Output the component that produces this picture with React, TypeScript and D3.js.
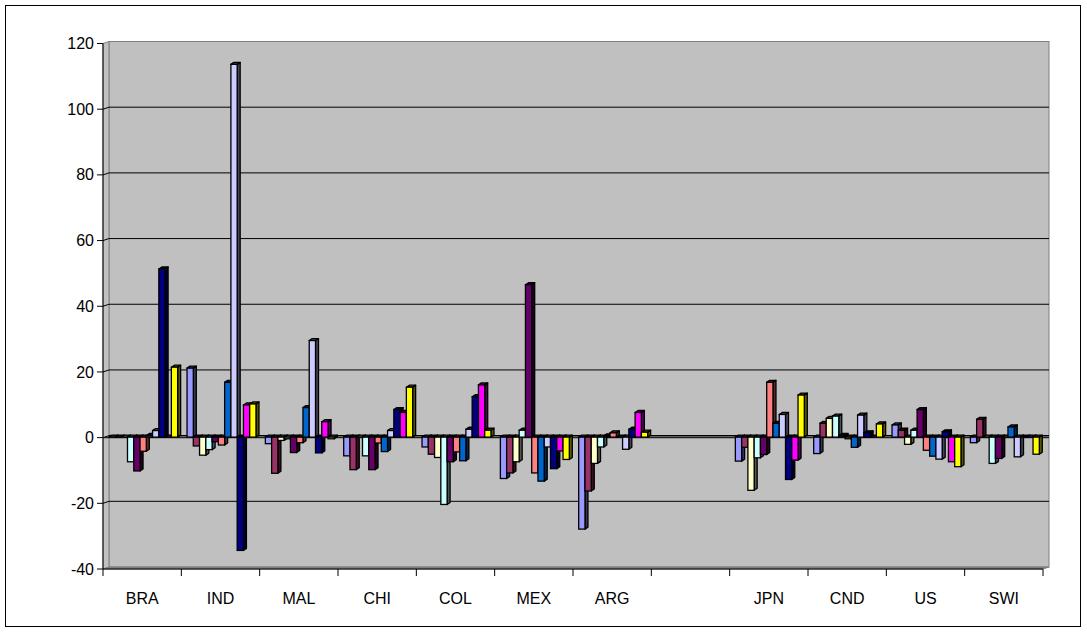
import React from "react";
import * as d3 from "d3";

const categories = ["BRA", "IND", "MAL", "CHI", "COL", "MEX", "ARG", " ", "JPN", "CND", "US", "SWI"];
const seriesNames = ["S1", "S2", "S3", "S4", "S5", "S6", "S7", "S8", "S9", "S10", "S11"];
const seriesColors = ["#9999FF", "#993366", "#FFFFCC", "#CCFFFF", "#660066", "#FF8080", "#0066CC", "#CCCCFF", "#000080", "#FF00FF", "#FFFF00"];

const s1 = [0, 21, -2, -5.7, -3, -12.6, -28, null, -7.3, -5, 3.7, -1.7];
const s2 = [0, -2.7, -11, -9.9, -5.2, -10.9, -16.4, null, -3.1, 4.2, 2.1, 5.4];
const s3 = [0, -5.5, -1, 0, -6.2, -7.5, -8, null, -16.2, 5.7, -2.2, 0];
const s4 = [-7.5, -3.8, -0.5, -5.7, -20.5, 2.1, -3, null, -6.3, 6.4, 2.1, -8];
const s5 = [-10.3, -1.4, -4.7, -9.9, -7.5, 46.4, 0.4, null, -5.3, 0.5, 8.4, -6.5];
const s6 = [-4.3, -2.4, -1.7, -1.8, -4.5, -10.9, 1.3, null, 16.7, -0.5, -4, 0];
const s7 = [0.5, 16.7, 9, -4.4, -7.2, -13.4, 0, null, 4.2, -3.1, -5.8, 3.1];
const s8 = [2, 113.5, 29.4, 2, 2.4, -3, -3.7, null, 6.9, 6.7, -6.7, -6];
const s9 = [51.2, -34.5, -4.8, 8.4, 12.3, -9.6, 2.4, null, -12.9, 1.3, 1.6, 0];
const s10 = [0, 9.8, 4.7, 7.5, 15.9, -4.2, 7.5, null, -7, 0, -7.5, 0];
const s11 = [21.3, 10.1, -0.5, 15.2, 2.1, -6.8, 1.5, null, 12.8, 4, -9, -5.2];
const seriesValues = [s1, s2, s3, s4, s5, s6, s7, s8, s9, s10, s11];

const yTicks = [-40, -20, 0, 20, 40, 60, 80, 100, 120];

export default function App() {
  const x0 = 103, x1 = 1043;
  const wallDx = 6, wallDy = -2;
  const barDx = 3, barDy = -2;
  const x = d3.scaleBand<string>().domain(categories).range([x0, x1]).padding(0);
  const xs = d3.scaleBand<string>().domain(seriesNames).range([0, x.bandwidth()]).paddingInner(0).paddingOuter(0.75);
  const y = d3.scaleLinear().domain([-40, 120]).range([569, 43.5]);
  const yb = (v: number) => y(v) + wallDy;
  const font = "Liberation Sans, Arial, sans-serif";

  const bars: any[] = [];
  categories.forEach((c, ci) => {
    seriesValues.forEach((arr, si) => {
      const v = arr[ci];
      if (v === null || v === undefined) return;
      const bx = (x(c) as number) + (xs(seriesNames[si]) as number) + 1;
      const w = xs.bandwidth();
      const base = y(0) - 0.5;
      const vy = y(v) - 0.5;
      const top = Math.min(base, vy);
      const bot = Math.max(base, vy);
      const col = d3.color(seriesColors[si])!;
      const side = col.darker(3).formatHex();
      const topc = col.darker(2.5).formatHex();
      bars.push(
        <g key={`${ci}-${si}`}>
          <polygon
            points={`${bx + w},${top} ${bx + w + barDx},${top + barDy} ${bx + w + barDx},${bot + barDy} ${bx + w},${bot}`}
            fill={side} stroke="#000" strokeWidth={1.3} strokeLinejoin="round" />
          <polygon
            points={`${bx},${top} ${bx + barDx},${top + barDy} ${bx + w + barDx},${top + barDy} ${bx + w},${top}`}
            fill={topc} stroke="#000" strokeWidth={1.3} strokeLinejoin="round" />
          <rect x={bx} y={top} width={w} height={Math.max(0, bot - top)} fill={seriesColors[si]} stroke="#000" strokeWidth={1.3} />
        </g>
      );
    });
  });

  const bx0 = x0 + wallDx, bx1 = x1 + wallDx;
  return (
    <svg width={1087} height={633} style={{ position: "absolute", left: 0, top: 0, background: "#fff" }}>
      <rect x={5.5} y={5.5} width={1075} height={621} fill="#fff" stroke="#000" strokeWidth={1} />
      <rect x={bx0} y={yb(120)} width={bx1 - bx0} height={yb(-40) - yb(120)} fill="#C0C0C0" stroke="#808080" strokeWidth={1} />
      <polygon points={`${x0},${y(120)} ${bx0},${yb(120)} ${bx0},${yb(-40)} ${x0},${y(-40)}`} fill="#C0C0C0" stroke="#808080" strokeWidth={1} />
      <polygon points={`${x0},${y(-40)} ${bx0},${yb(-40)} ${bx1},${yb(-40)} ${x1},${y(-40)}`} fill="#808080" stroke="#808080" strokeWidth={1} />
      {yTicks.filter(t => t > -40 && t < 120).map(t => (
        <g key={t}>
          <line x1={bx0} x2={bx1} y1={yb(t)} y2={yb(t)} stroke="#000" strokeWidth={t === 0 ? 1.5 : 1} />
          <line x1={x0} x2={bx0} y1={y(t)} y2={yb(t)} stroke="#000" strokeWidth={1} />
        </g>
      ))}
      <line x1={x0} x2={bx1} y1={y(0)} y2={y(0)} stroke="#202020" strokeWidth={1.2} />
      {bars}
      <line x1={x0} x2={x0} y1={y(120)} y2={y(-40)} stroke="#000" strokeWidth={1} />
      {yTicks.map(t => (
        <g key={t}>
          <line x1={x0 - 6} x2={x0} y1={y(t)} y2={y(t)} stroke="#000" strokeWidth={1} />
          <text x={x0 - 9} y={y(t)} dy="0.35em" textAnchor="end" fontFamily={font} fontSize={16} fill="#000">{t}</text>
        </g>
      ))}
      <line x1={x0} x2={x1} y1={y(-40)} y2={y(-40)} stroke="#000" strokeWidth={1} />
      {categories.map((c, i) => (
        <line key={i} x1={(x(c) as number)} x2={(x(c) as number)} y1={y(-40)} y2={y(-40) + 7} stroke="#000" strokeWidth={1} />
      ))}
      <line x1={x1} x2={x1} y1={y(-40)} y2={y(-40) + 7} stroke="#000" strokeWidth={1} />
      {categories.map((c, i) => (
        <text key={i} x={(x(c) as number) + x.bandwidth() / 2} y={604} textAnchor="middle" fontFamily={font} fontSize={16} fill="#000">{c.trim()}</text>
      ))}
    </svg>
  );
}
